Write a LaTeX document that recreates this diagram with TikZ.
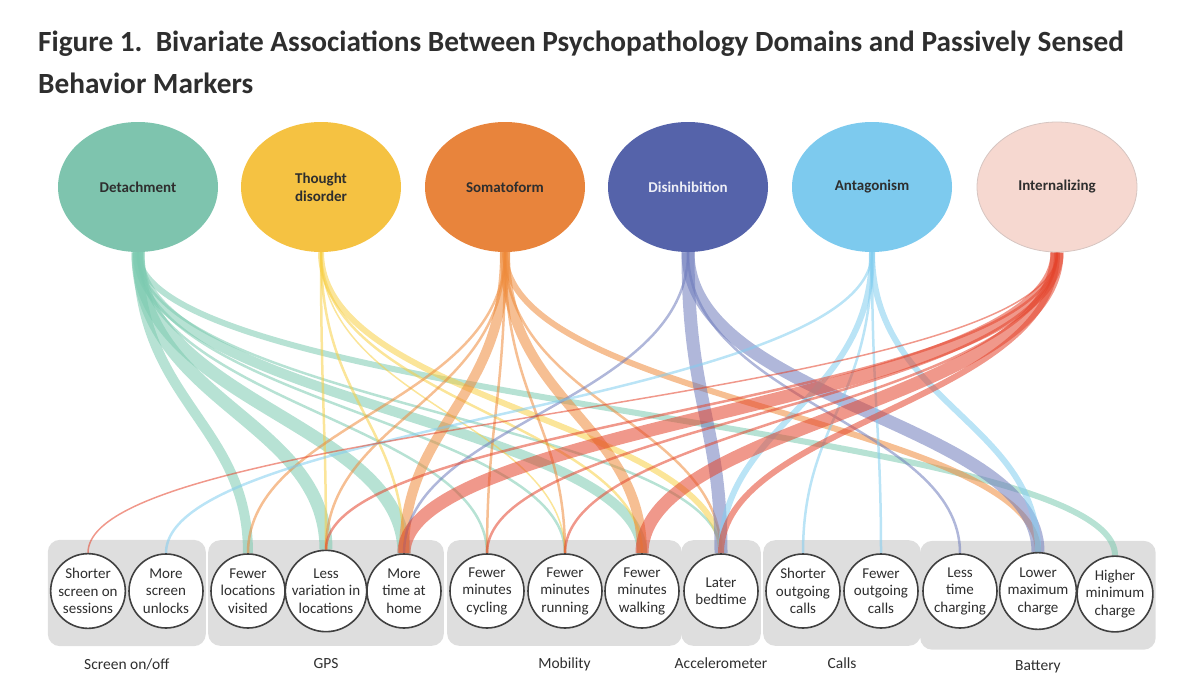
\documentclass[tikz,border=0pt]{standalone}
\usepackage{fontspec}
\setmainfont{Carlito}
\usetikzlibrary{shapes.geometric,fit,positioning}

\definecolor{cdet}{HTML}{7EC4AE}
\definecolor{ctho}{HTML}{F5C242}
\definecolor{csom}{HTML}{E8843C}
\definecolor{cdis}{HTML}{5563AA}
\definecolor{cant}{HTML}{7DCAEE}
\definecolor{cint}{HTML}{F6D8D0}
\definecolor{edet}{HTML}{7CCAB0}
\definecolor{etho}{HTML}{F7CF45}
\definecolor{esom}{HTML}{EE8A3A}
\definecolor{edis}{HTML}{6F7CBC}
\definecolor{eant}{HTML}{82CDEF}
\definecolor{eint}{HTML}{E4442C}
\definecolor{ink}{HTML}{2E2E2E}
\definecolor{boxgray}{HTML}{DEDEDE}

\pgfdeclarelayer{boxes}
\pgfdeclarelayer{links}
\pgfsetlayers{boxes,links,main}

\tikzset{
  dom/.style={ellipse, minimum width=160pt, minimum height=130pt, inner sep=0pt,
    align=center, font=\bfseries\fontsize{15}{18}\selectfont, text=ink},
  marker/.style={circle, draw=black!75, line width=1.6pt, fill=white,
    minimum size=74pt, inner sep=0pt, align=center,
    font=\fontsize{15}{17.5}\selectfont, text=ink},
  group/.style={fill=boxgray, rounded corners=12pt, inner xsep=2pt,
    inner ysep=15pt, yshift=-2pt},
  grouplabel/.style={font=\fontsize{15.5}{18}\selectfont, text=ink, inner sep=0pt},
  link/.style={draw opacity=0.55,
    to path={.. controls +(0,150) and +(0,-130) .. (\tikztotarget)}},
  lnhair/.style={line width=1.5pt},
  lnfine/.style={line width=2.5pt},
  lnmid/.style={line width=6pt},
  lnwide/.style={line width=10pt},
  lnhuge/.style={line width=13pt}
}

\begin{document}
\begin{tikzpicture}[x=1pt, y=-1pt]
  \useasboundingbox (0,0) rectangle (1200,688);

  % title
  \node [anchor=base west, inner sep=0pt, text=ink,
    font=\bfseries\fontsize{29.3}{34}\selectfont] (head) at (38,51)
    {Figure 1.\ \ Bivariate Associations Between Psychopathology Domains and Passively Sensed};
  \node [anchor=base west, inner sep=0pt, text=ink,
    font=\bfseries\fontsize{29.3}{34}\selectfont] (head2) at (38,93) {Behavior Markers};

  % psychopathology domains
  \node [dom, fill=cdet] (det) at (138,187) {Detachment};
  \node [dom, fill=ctho] (tho) at (321,187) {Thought\\disorder};
  \node [dom, fill=csom] (som) at (505,187) {Somatoform};
  \node [dom, fill=cdis, text=white!90!cdis] (dis) at (688,187) {Disinhibition};
  \node [dom, fill=cant] (ant) at (872,187) {Antagonism};
  \node [dom, fill=cint, draw=cint!80!black!70, line width=0.8pt] (int) at (1057,187) {Internalizing};

  % behavior markers
  \node [marker] (ses) at (88,591) {Shorter\\screen on\\sessions};
  \node [marker] (unl) at (166,591) {More\\screen\\unlocks};
  \node [marker] (loc) at (248,591) {Fewer\\locations\\visited};
  \node [marker] (var) at (326,591) {Less\\variation in\\locations};
  \node [marker] (home) at (404,591) {More\\time at\\home};
  \node [marker] (cyc) at (487,591) {Fewer\\minutes\\cycling};
  \node [marker] (run) at (565,591) {Fewer\\minutes\\running};
  \node [marker] (walk) at (642,591) {Fewer\\minutes\\walking};
  \node [marker] (bed) at (721,591) {Later\\bedtime};
  \node [marker] (sout) at (803,591) {Shorter\\outgoing\\calls};
  \node [marker] (fout) at (881,591) {Fewer\\outgoing\\calls};
  \node [marker] (ltime) at (960,591) {Less\\time\\charging};
  \node [marker] (lmax) at (1038,591) {Lower\\maximum\\charge};
  \node [marker] (hmin) at (1115,594) {Higher\\minimum\\charge};

  % sensor groups
  \begin{pgfonlayer}{boxes}
    \node [group, fit=(ses)(unl)] (gscr) {};
    \node [group, fit=(loc)(home)] (ggps) {};
    \node [group, fit=(cyc)(walk)] (gmob) {};
    \node [group, fit=(bed)] (gacc) {};
    \node [group, fit=(sout)(fout)] (gcal) {};
    \node [group, fit=(ltime)(lmax)(hmin), inner ysep=14pt, yshift=-1pt] (gbat) {};
  \end{pgfonlayer}
  \node [grouplabel, below=12pt of gscr] (lscr) {Screen on/off};
  \node [grouplabel, below=12pt of ggps] (lgps) {GPS};
  \node [grouplabel, below=12pt of gmob] (lmob) {Mobility};
  \node [grouplabel, below=12pt of gacc] (lacc) {Accelerometer};
  \node [grouplabel, below=12pt of gcal] (lcal) {Calls};
  \node [grouplabel, below=10.5pt of gbat] (lbat) {Battery};

  % associations
  \begin{pgfonlayer}{links}
    % Detachment
    \draw [link, edet, lnwide] (det.south) to (loc.north);
    \draw [link, edet, lnhuge] (det.south) to (var.north);
    \draw [link, edet, lnhuge] (det.south) to (home.north);
    \draw [link, edet, lnfine] (det.south) to (cyc.north);
    \draw [link, edet, lnfine] (det.south) to (run.north);
    \draw [link, edet, lnwide] (det.south) to (walk.north);
    \draw [link, edet, lnfine] (det.south) to (bed.north);
    \draw [link, edet, lnmid] (det.south) to (hmin.north);
    % Thought disorder
    \draw [link, etho, lnfine] (tho.south) to (var.north);
    \draw [link, etho, lnfine] (tho.south) to (home.north);
    \draw [link, etho, lnhair] (tho.south) to (run.north);
    \draw [link, etho, lnfine] (tho.south) to (walk.north);
    \draw [link, etho, lnmid] (tho.south) to (bed.north);
    % Somatoform
    \draw [link, esom, lnfine] (som.south) to (loc.north);
    \draw [link, esom, lnfine] (som.south) to (var.north);
    \draw [link, esom, lnwide] (som.south) to (home.north);
    \draw [link, esom, lnfine] (som.south) to (cyc.north);
    \draw [link, esom, lnfine] (som.south) to (run.north);
    \draw [link, esom, lnwide] (som.south) to (walk.north);
    \draw [link, esom, lnfine] (som.south) to (bed.north);
    \draw [link, esom, lnmid] (som.south) to (lmax.north);
    % Disinhibition
    \draw [link, edis, lnfine] (dis.south) to (home.north);
    \draw [link, edis, lnhuge] (dis.south) to (bed.north);
    \draw [link, edis, lnfine] (dis.south) to (ltime.north);
    \draw [link, edis, lnhuge] (dis.south) to (lmax.north);
    % Antagonism
    \draw [link, eant, lnfine] (ant.south) to (unl.north);
    \draw [link, eant, lnmid] (ant.south) to (bed.north);
    \draw [link, eant, lnfine] (ant.south) to (sout.north);
    \draw [link, eant, lnfine] (ant.south) to (fout.north);
    \draw [link, eant, lnmid] (ant.south) to (lmax.north);
    % Internalizing
    \draw [link, eint, lnhair] (int.south) to (ses.north);
    \draw [link, eint, lnfine] (int.south) to (var.north);
    \draw [link, eint, lnhuge] (int.south) to (home.north);
    \draw [link, eint, lnfine] (int.south) to (cyc.north);
    \draw [link, eint, lnfine] (int.south) to (run.north);
    \draw [link, eint, lnhuge] (int.south) to (walk.north);
    \draw [link, eint, lnmid] (int.south) to (bed.north);
  \end{pgfonlayer}
\end{tikzpicture}
\end{document}
